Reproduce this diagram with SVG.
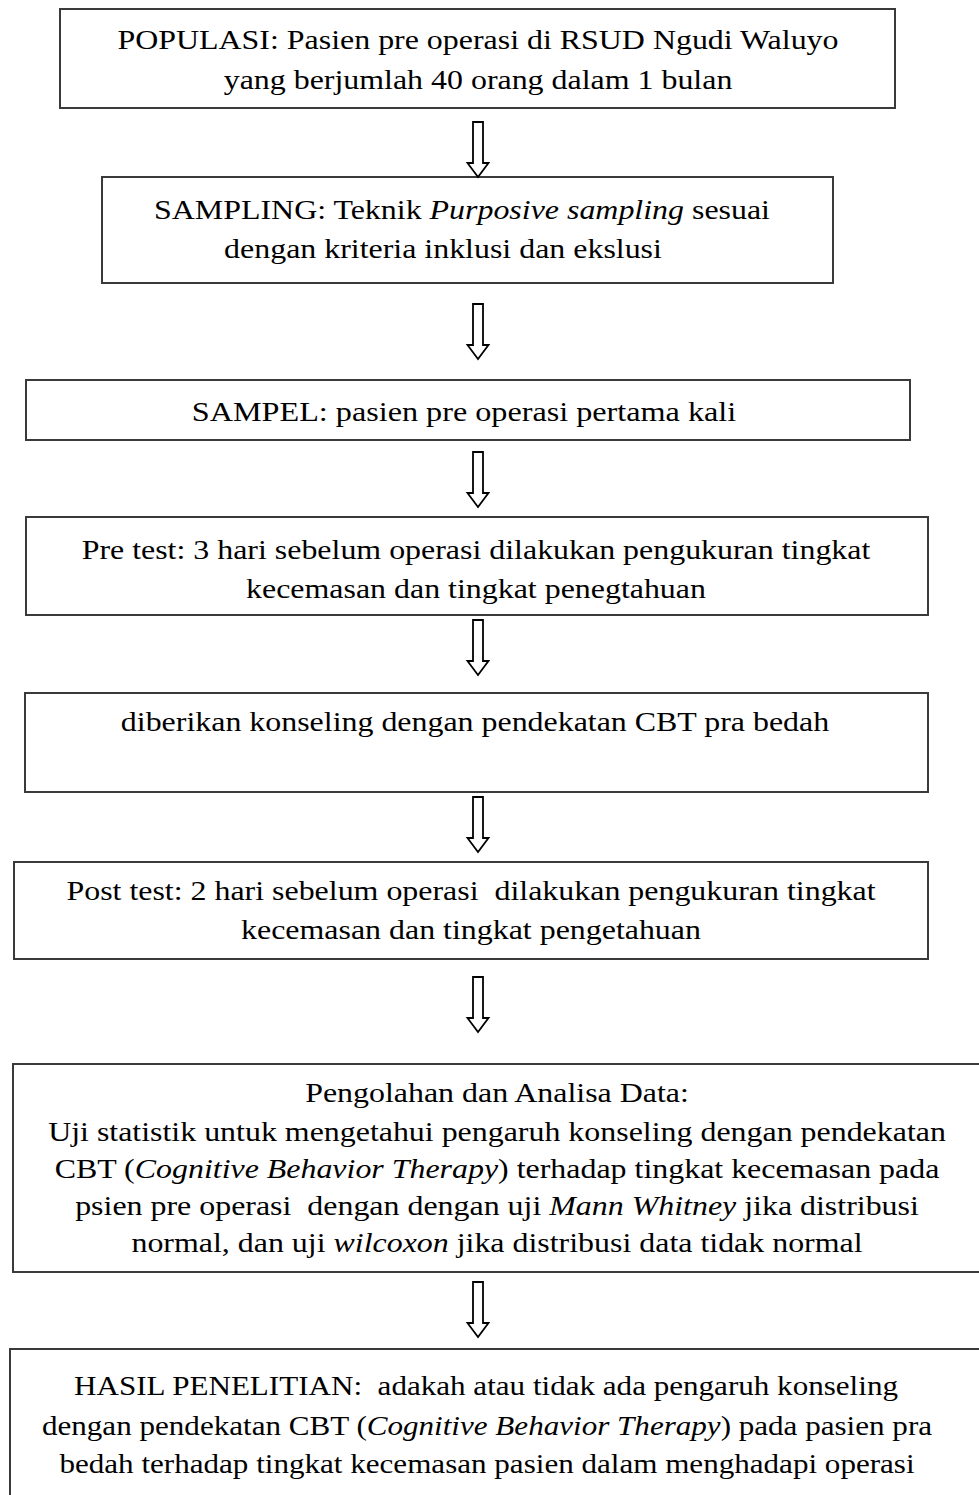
<svg xmlns="http://www.w3.org/2000/svg" width="979" height="1495" viewBox="0 0 979 1495">
<style>
.box{fill:#fff;stroke:#3a3a3a;stroke-width:2}
.t{font-family:"Liberation Serif","Times New Roman",serif;font-size:28px;fill:#000;text-anchor:middle;white-space:pre}
.i{font-style:italic}
.arr{fill:#fff;stroke:#000;stroke-width:1.8;stroke-linejoin:miter}
</style>
<defs>
<path id="ar" d="M-5,0 H5 V41 H10.5 L0,55 L-10.5,41 H-5 Z"/>
</defs>
<rect width="979" height="1495" fill="#fff"/>
<g id="n1"><rect class="box" x="60" y="9" width="835" height="99"/>
<text class="t" transform="translate(478,0) scale(1.14,1)" y="49">POPULASI: Pasien pre operasi di RSUD Ngudi Waluyo</text>
<text class="t" transform="translate(478,0) scale(1.14,1)" y="89">yang berjumlah 40 orang dalam 1 bulan</text></g>
<g id="n2"><rect class="box" x="102" y="177" width="731" height="106"/>
<text class="t" transform="translate(462,0) scale(1.14,1)" y="219">SAMPLING: Teknik <tspan class="i">Purposive sampling</tspan> sesuai</text>
<text class="t" transform="translate(443,0) scale(1.14,1)" y="258">dengan kriteria inklusi dan ekslusi</text></g>
<g id="n3"><rect class="box" x="26" y="380" width="884" height="60"/>
<text class="t" transform="translate(464,0) scale(1.15,1)" y="421">SAMPEL: pasien pre operasi pertama kali</text></g>
<g id="n4"><rect class="box" x="26" y="517" width="902" height="98"/>
<text class="t" transform="translate(476,0) scale(1.14,1)" y="559">Pre test: 3 hari sebelum operasi dilakukan pengukuran tingkat</text>
<text class="t" transform="translate(476,0) scale(1.14,1)" y="598">kecemasan dan tingkat penegtahuan</text></g>
<g id="n5"><rect class="box" x="25" y="693" width="903" height="99"/>
<text class="t" transform="translate(475,0) scale(1.14,1)" y="731">diberikan konseling dengan pendekatan CBT pra bedah</text></g>
<g id="n6"><rect class="box" x="14" y="862" width="914" height="97"/>
<text class="t" transform="translate(471,0) scale(1.14,1)" y="900">Post test: 2 hari sebelum operasi  dilakukan pengukuran tingkat</text>
<text class="t" transform="translate(471,0) scale(1.14,1)" y="939">kecemasan dan tingkat pengetahuan</text></g>
<g id="n7"><rect class="box" x="13" y="1064" width="980" height="208"/>
<text class="t" transform="translate(497,0) scale(1.14,1)" y="1102">Pengolahan dan Analisa Data:</text>
<text class="t" transform="translate(497,0) scale(1.14,1)" y="1141">Uji statistik untuk mengetahui pengaruh konseling dengan pendekatan</text>
<text class="t" transform="translate(497,0) scale(1.14,1)" y="1178">CBT (<tspan class="i">Cognitive Behavior Therapy</tspan>) terhadap tingkat kecemasan pada</text>
<text class="t" transform="translate(497,0) scale(1.14,1)" y="1215">psien pre operasi  dengan dengan uji <tspan class="i">Mann Whitney</tspan> jika distribusi</text>
<text class="t" transform="translate(497,0) scale(1.14,1)" y="1252">normal, dan uji <tspan class="i">wilcoxon</tspan> jika distribusi data tidak normal</text></g>
<g id="n8"><rect class="box" x="10" y="1349" width="985" height="160"/>
<text class="t" transform="translate(486,0) scale(1.11,1)" y="1395">HASIL PENELITIAN:  adakah atau tidak ada pengaruh konseling</text>
<text class="t" transform="translate(487,0) scale(1.11,1)" y="1435">dengan pendekatan CBT (<tspan class="i">Cognitive Behavior Therapy</tspan>) pada pasien pra</text>
<text class="t" transform="translate(487,0) scale(1.11,1)" y="1473">bedah terhadap tingkat kecemasan pasien dalam menghadapi operasi</text></g>
<g id="connectors">
<use href="#ar" class="arr" x="478" y="122"/>
<use href="#ar" class="arr" x="478" y="304"/>
<use href="#ar" class="arr" x="478" y="452"/>
<use href="#ar" class="arr" x="478" y="620"/>
<use href="#ar" class="arr" x="478" y="797"/>
<use href="#ar" class="arr" x="478" y="977"/>
<use href="#ar" class="arr" x="478" y="1282"/>
</g>
</svg>
